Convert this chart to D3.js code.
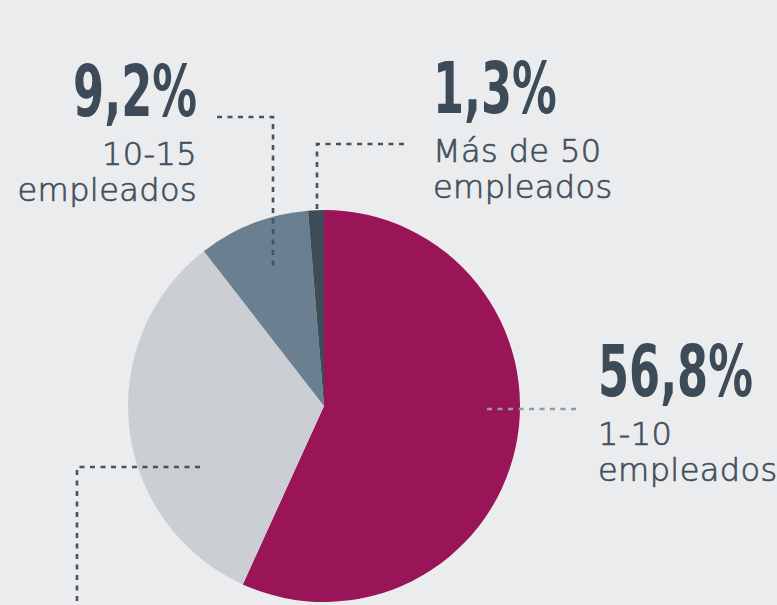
<!DOCTYPE html>
<html>
<head>
<meta charset="utf-8">
<script src="https://cdn.jsdelivr.net/npm/d3@7"></script>
<style>
  html, body { margin: 0; padding: 0; background: #ebecee; overflow: hidden; }
  .big { font-family: "Liberation Sans Narrow", "DejaVu Sans Condensed", sans-serif; font-weight: bold; fill: #3d4b58; }
  .lbl { font-family: "DejaVu Sans", sans-serif; font-weight: 200; fill: #434f5c; stroke: #434f5c; stroke-width: 0.7px; letter-spacing: 0.4px; }
</style>
</head>
<body>
<script>
// data
const categories = ["1-10 empleados", "15-50 empleados", "10-15 empleados", "Más de 50 empleados"];
const shares = [56.8, 32.7, 9.2, 1.3];
const shareLabels = ["56,8%", "32,7%", "9,2%", "1,3%"];
const labelLines = [["1-10", "empleados"], ["15-50", "empleados"], ["10-15", "empleados"], ["Más de 50", "empleados"]];
const colors = ["#9a1458", "#cbced2", "#6a7f8f", "#3e4c58"];

const width = 777, height = 605;
const cx = 324, cy = 406, radius = 196;

// label layout (offsets from pie centre), leader polylines relative to pie centre
const layout = [
  {x: 274, y: -10, anchor: "start", leader: [[252, 3], [162, 3]], leaderColor: "#939aa2"},
  {x: null, y: null, anchor: "end", leader: [[-124, 61], [-247, 61], [-247, 230]], leaderColor: "#46525e"},
  {x: -127, y: -290, anchor: "end", leader: [[-107, -289], [-51, -289], [-51, -140]], leaderColor: "#46525e"},
  {x: 109, y: -293, anchor: "start", leader: [[80, -262], [-7, -262], [-7, -196]], leaderColor: "#46525e"}
];

const svg = d3.select("body").append("svg")
  .attr("width", width)
  .attr("height", height);

const pie = d3.pie().sort(null).value(d => d);
const arc = d3.arc().innerRadius(0).outerRadius(radius);

const g = svg.append("g").attr("transform", `translate(${cx},${cy})`);

g.selectAll("path.slice")
  .data(pie(shares))
  .enter().append("path")
  .attr("class", "slice")
  .attr("d", arc)
  .attr("fill", (d, i) => colors[i]);

// leaders
const line = d3.line();
g.selectAll("path.leader")
  .data(layout)
  .enter().append("path")
  .attr("class", "leader")
  .attr("d", d => line(d.leader))
  .attr("fill", "none")
  .attr("stroke", d => d.leaderColor)
  .attr("stroke-width", 2.6)
  .attr("stroke-dasharray", "5,5.5");

// labels
const labels = g.selectAll("g.label")
  .data(layout.map((d, i) => ({...d, i})).filter(d => d.x !== null))
  .enter().append("g")
  .attr("class", "label")
  .attr("transform", d => `translate(${d.x},${d.y})`);

const big = labels.append("text")
  .attr("class", "big")
  .attr("text-anchor", d => d.anchor)
  .style("font-size", "72px")
  .text(d => shareLabels[d.i]);

// condense the big numbers
const ref = big.filter(d => d.i === 0).node().getComputedTextLength();
const k = 155 / ref;
big.attr("transform", `scale(${k},1)`);

labels.each(function(d) {
  const t = d3.select(this).append("text")
    .attr("class", "lbl")
    .attr("text-anchor", d.anchor)
    .style("font-size", "32px");
  labelLines[d.i].forEach((s, j) => {
    t.append("tspan")
      .attr("x", 0)
      .attr("y", 49 + j * 36)
      .text(s);
  });
});
</script>
</body>
</html>
